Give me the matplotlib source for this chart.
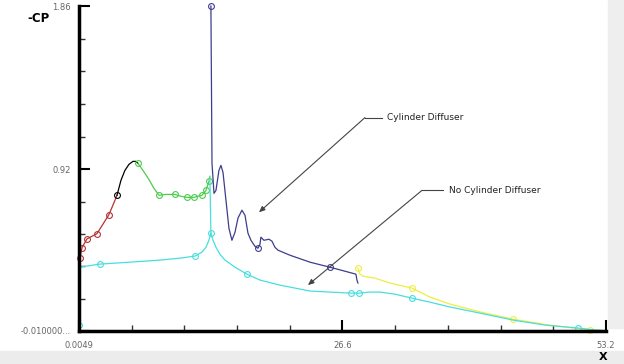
import numpy as np
import matplotlib
matplotlib.use("Agg")
import matplotlib.pyplot as plt
from matplotlib.patches import Rectangle

# ============================================================
# data (-CP along X)
# ============================================================
red_x = [0.005, 0.10, 0.31, 0.81, 1.82, 3.03, 3.84]
red_y = [0.38, 0.41, 0.47, 0.52, 0.55, 0.66, 0.77]

black_x = [3.84, 4.24, 4.64, 5.05, 5.45, 5.75, 5.96]
black_y = [0.771, 0.857, 0.914, 0.949, 0.966, 0.966, 0.954]

green_x = [5.96, 6.46, 7.06, 7.57, 8.08, 8.78, 9.69, 10.30, 10.90, 11.61, 12.42, 12.82, 13.12, 13.22]
green_y = [0.954, 0.914, 0.862, 0.811, 0.771, 0.776, 0.776, 0.765, 0.759, 0.759, 0.771, 0.799, 0.851, 0.880]

navy_x = [13.32, 13.43, 13.63, 13.83, 14.13, 14.33, 14.54, 14.84, 15.14, 15.44, 15.75, 16.05,
          16.45, 16.76, 17.06, 17.36, 17.76, 18.07, 18.27, 18.37, 18.67, 19.18, 19.48, 19.78,
          20.09, 21.30, 23.32, 25.34, 26.85, 27.96, 28.06, 28.16]
navy_y = [1.86, 0.954, 0.782, 0.799, 0.914, 0.943, 0.903, 0.742, 0.581, 0.512, 0.558, 0.639,
          0.685, 0.656, 0.553, 0.512, 0.478, 0.466, 0.489, 0.530, 0.512, 0.518, 0.507, 0.472,
          0.455, 0.426, 0.386, 0.357, 0.334, 0.317, 0.283, 0.266]

cyan_left_x = [0.005, 2.12, 5.15, 8.18, 10.20, 11.71, 12.42, 12.82, 13.12, 13.32]
cyan_left_y = [0.357, 0.375, 0.386, 0.398, 0.409, 0.421, 0.444, 0.472, 0.512, 0.553]

cyan_right_x = [13.22, 13.32, 13.53, 13.83, 14.23, 14.74, 15.75, 16.96, 18.27, 20.29, 23.32,
                25.34, 27.46, 28.26, 29.37, 30.38, 31.90, 33.61, 35.43, 37.45, 40.48, 43.81,
                47.04, 50.37, 52.09, 53.10]
cyan_right_y = [0.868, 0.553, 0.512, 0.472, 0.432, 0.398, 0.357, 0.317, 0.283, 0.254, 0.220,
                0.214, 0.208, 0.208, 0.214, 0.214, 0.202, 0.179, 0.156, 0.128, 0.093, 0.053,
                0.024, 0.007, -0.004, -0.008]

yellow_x = [28.16, 28.36, 28.67, 29.88, 31.39, 33.61, 35.43, 37.45, 40.48, 43.81, 47.04, 50.07, 51.58, 53.10]
yellow_y = [0.352, 0.317, 0.306, 0.294, 0.266, 0.237, 0.185, 0.145, 0.100, 0.058, 0.028, 0.006, -0.004, -0.008]

x_ticks = [0.0049, 26.6, 53.2]
x_tick_labels = ["0.0049", "26.6", "53.2"]
y_ticks = [-0.01, 0.92, 1.86]
y_tick_labels = ["-0.010000...", "0.92", "1.86"]

# ============================================================
# figure
# ============================================================
fig = plt.figure(figsize=(6.24, 3.64), dpi=100)
fig.patch.set_facecolor("white")
# grey window strips on the right and bottom
fig.patches.append(Rectangle((608 / 624, 36 / 364), 16 / 624, 328 / 364,
                             transform=fig.transFigure, color="#eeeeee", zorder=0))
fig.patches.append(Rectangle((0, 0), 1, 13 / 364,
                             transform=fig.transFigure, color="#ececec", zorder=0))

ax = fig.add_axes([79 / 624, 33 / 364, 527 / 624, 325 / 364])
ax.set_facecolor("none")

lw = 0.9
mk = dict(marker="o", markersize=4.2, mfc="none", mew=0.8, clip_on=False)

ax.plot(red_x, red_y, color="#b83030", lw=lw, markevery=[1, 2, 3, 4, 5], **mk)
ax.plot(black_x, black_y, color="black", lw=lw, markevery=[0], **mk)
ax.plot(green_x, green_y, color="#4ccc4c", lw=lw, markevery=[0, 4, 6, 8, 9, 10, 11, 12], **mk)
ax.plot(cyan_left_x, cyan_left_y, color="#48dede", lw=lw, markevery=[1, 5, 9], **mk)
ax.plot(yellow_x, yellow_y, color="#eeee40", lw=lw, markevery=[0, 5, 9, 12], **mk)
ax.plot(cyan_right_x, cyan_right_y, color="#48dede", lw=lw, markevery=[7, 12, 13, 17, 23], **mk)
ax.plot([0.1], [0.025], color="#48dede", marker="o", markersize=3, mfc="none", mew=0.8, clip_on=False)
ax.plot(navy_x, navy_y, color="#3d3d8f", lw=lw, markevery=[0, 17, 27], **mk)

# annotations with elbow leader lines
ann_color = "#444444"
ax.plot([28.87, 30.59], [1.218, 1.218], color=ann_color, lw=0.8)
ax.annotate("", xy=(18.17, 0.673), xytext=(28.87, 1.218),
            arrowprops=dict(arrowstyle="-|>,head_length=0.35,head_width=0.15",
                            color=ann_color, lw=0.8, shrinkA=0, shrinkB=0))
ax.text(31.09, 1.218, "Cylinder Diffuser", fontsize=6.5, va="center", ha="left", color="#222222")

ax.plot([34.62, 36.74], [0.799, 0.799], color=ann_color, lw=0.8)
ax.annotate("", xy=(23.11, 0.254), xytext=(34.62, 0.799),
            arrowprops=dict(arrowstyle="-|>,head_length=0.35,head_width=0.15",
                            color=ann_color, lw=0.8, shrinkA=0, shrinkB=0))
ax.text(37.35, 0.799, "No Cylinder Diffuser", fontsize=6.5, va="center", ha="left", color="#222222")

# axes styling
ax.set_xlim(0.0049, 53.2)
ax.set_ylim(-0.01, 1.86)
for side in ["top", "right"]:
    ax.spines[side].set_visible(False)
for side in ["left", "bottom"]:
    ax.spines[side].set_linewidth(2.5)
    ax.spines[side].set_color("black")

ax.set_xticks(x_ticks)
ax.set_xticklabels(x_tick_labels)
ax.set_yticks(y_ticks)
ax.set_yticklabels(y_tick_labels)
ax.set_xticks(np.concatenate([np.linspace(0.0049, 26.6, 6)[1:-1], np.linspace(26.6, 53.2, 6)[1:-1]]), minor=True)
ax.set_yticks(np.concatenate([np.linspace(-0.01, 0.92, 6)[1:-1], np.linspace(0.92, 1.86, 6)[1:-1]]), minor=True)
ax.tick_params(which="major", direction="in", length=8, width=1.5, color="black",
               labelsize=6, labelcolor="#666666")
ax.tick_params(which="minor", direction="in", length=4, width=1.0, color="#333333")
ax.tick_params(axis="y", which="major", pad=6)
ax.tick_params(axis="x", which="major", pad=7)

fig.text(38 / 624, 1 - 18 / 364, "-CP", fontsize=8.5, fontweight="bold", ha="center", va="center")
fig.text(603 / 624, 1 - 357 / 364, "X", fontsize=8, fontweight="bold", ha="center", va="center")

fig.savefig("out.png", dpi=100)
